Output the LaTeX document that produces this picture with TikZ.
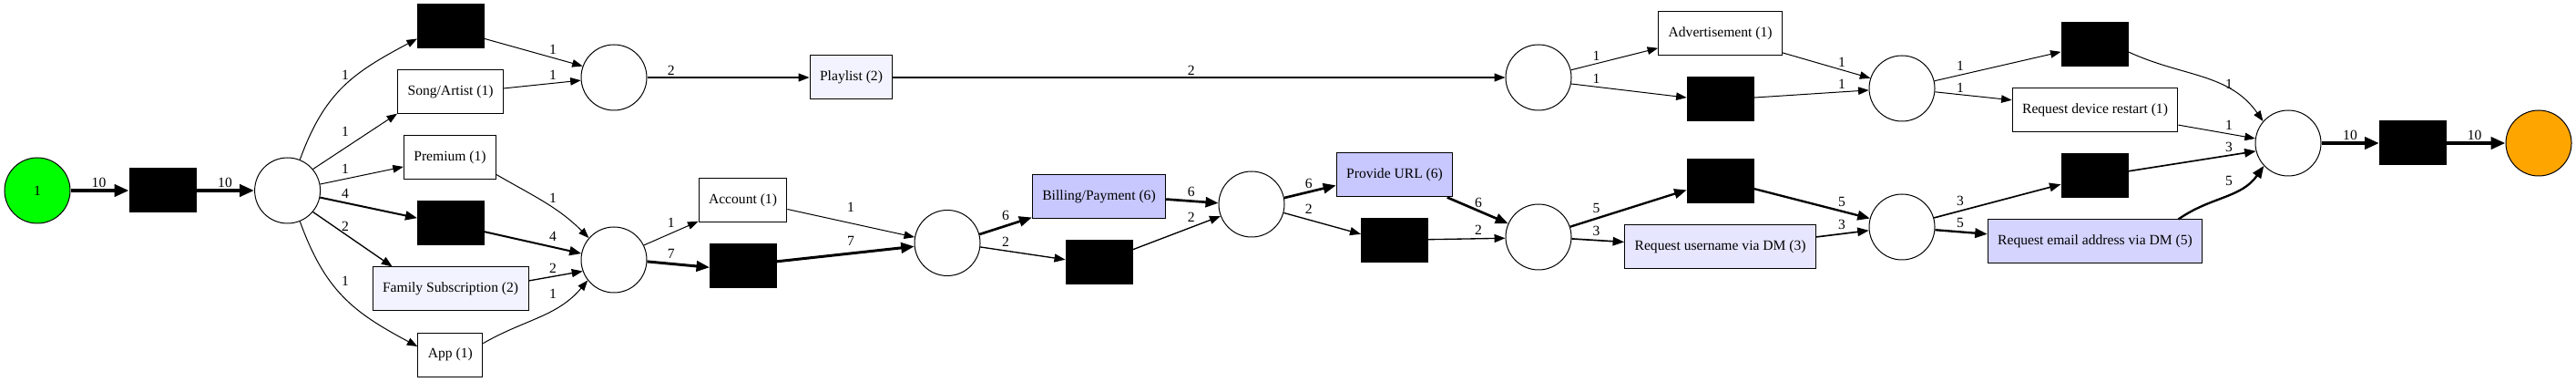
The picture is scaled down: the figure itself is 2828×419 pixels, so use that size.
\documentclass[tikz,border=0pt]{standalone}
\usepackage{fontspec}
\setmainfont{Liberation Serif}
\usepackage{tikz}
\usetikzlibrary{arrows.meta}

\definecolor{startgreen}{RGB}{0,255,0}
\definecolor{sinkorange}{RGB}{255,165,0}
\definecolor{freqtwo}{RGB}{243,243,255}
\definecolor{freqthree}{RGB}{230,230,255}
\definecolor{freqfive}{RGB}{212,212,255}
\definecolor{freqsix}{RGB}{200,200,255}

\tikzset{
  place/.style={circle, draw, line width=1pt, minimum size=72pt, inner sep=0pt},
  silent/.style={draw, fill=black, line width=1pt, minimum width=73pt, minimum height=48pt, inner sep=0pt},
  task/.style={draw, line width=1pt, minimum height=48pt, inner xsep=11pt},
  arcw/.style={line width=#1, -{Triangle[length=10pt 1.5,width=7pt 1.5]}},
  lbl/.style={inner sep=0pt}
}

\begin{document}
\begin{tikzpicture}[x=1pt,y=1pt,yscale=-1,xscale=1,font=\fontsize{15.6}{18}\selectfont]
        \useasboundingbox (0,0) rectangle (2828,419);
        % Places
        \node [place, fill=startgreen] (source) at (41,209) {1};
        \node [place] (p1) at (315.6,209) {};
        \node [place] (p2) at (674,85) {};
        \node [place] (p3) at (674,285) {};
        \node [place] (p4) at (1040,266.5) {};
        \node [place] (p5) at (1374,224) {};
        \node [place] (p6) at (1689,85) {};
        \node [place] (p8) at (1689,260) {};
        \node [place] (p7) at (2088,97) {};
        \node [place] (p9) at (2088,249) {};
        \node [place] (p10) at (2512,157) {};
        \node [place, fill=sinkorange] (sink) at (2787,157) {};
        % Silent transitions
        \node [silent] (t0) at (178.6,209) {};
        \node [silent] (tA) at (495,29) {};
        \node [silent] (tB) at (495,245) {};
        \node [silent] (tC) at (816,292) {};
        \node [silent] (tD) at (1206.5,288) {};
        \node [silent] (tE) at (1531,264) {};
        \node [silent] (tF) at (1888.6,109) {};
        \node [silent] (tG) at (1888.6,198.5) {};
        \node [silent] (tH) at (2299.5,49) {};
        \node [silent] (tI) at (2299.5,193) {};
        \node [silent] (tJ) at (2649,157) {};
        % Visible transitions
        \node [task] (song) at (494.6,101) {Song/Artist (1)};
        \node [task] (prem) at (494,173) {Premium (1)};
        \node [task, fill=freqtwo] (fam) at (494.6,317) {Family Subscription (2)};
        \node [task] (app) at (494.4,389) {App (1)};
        \node [task, fill=freqtwo] (play) at (934.5,85) {Playlist (2)};
        \node [task] (acc) at (815.5,220) {Account (1)};
        \node [task, fill=freqsix] (bill) at (1206.5,216) {Billing/Payment (6)};
        \node [task, fill=freqsix] (url) at (1531,192) {Provide URL (6)};
        \node [task] (adv) at (1888.6,37) {Advertisement (1)};
        \node [task, fill=freqthree] (user) at (1888.6,271) {Request username via DM (3)};
        \node [task] (dev) at (2300,121) {Request device restart (1)};
        \node [task, fill=freqfive] (mail) at (2300,265) {Request email address via DM (5)};

        %Straight Lines
        \draw [arcw=4pt] (source) -- (t0) node [lbl] at (108.5,200) {10};
        \draw [arcw=4pt] (t0) -- (p1) node [lbl] at (247,200) {10};
        %Curve Lines
        \draw [arcw=1pt] (p1.68) to [out=-70,in=152,looseness=1.1] (tA.200) node [lbl] at (379,82) {1};
        \draw [arcw=1pt] (p1.-68) to [out=70,in=208,looseness=1.1] (app.166) node [lbl] at (379,308) {1};
        %Straight Lines
        \draw [arcw=1pt] (p1.40) -- (song.202) node [lbl] at (379,144) {1};
        \draw [arcw=1pt] (p1.11) -- (prem.191) node [lbl] at (379,185) {1};
        \draw [arcw=2pt] (p1.-12) -- (tB.171) node [lbl] at (379,212) {4};
        \draw [arcw=1.33pt] (p1.-40) -- (fam.159) node [lbl] at (379,248) {2};
        \draw [arcw=1pt] (tA.-20) -- (p2.160) node [lbl] at (607,54) {1};
        \draw [arcw=1pt] (song.4) -- (p2.185) node [lbl] at (607,82) {1};
        %Curve Lines
        \draw [arcw=1pt] (prem.-20) to [out=30,in=225] (p3.139) node [lbl] at (607,217) {1};
        \draw [arcw=1pt] (app.19) to [out=-30,in=130] (p3.218) node [lbl] at (607,322) {1};
        %Straight Lines
        \draw [arcw=2pt] (tB.-14) -- (p3.169) node [lbl] at (607,259) {4};
        \draw [arcw=1.33pt] (fam.6) -- (p3.200) node [lbl] at (607,294) {2};
        \draw [arcw=1.33pt] (p2) -- (play) node [lbl] at (736.7,77) {2};
        \draw [arcw=1.33pt] (play) -- (p6) node [lbl] at (1307.7,77) {2};
        \draw [arcw=1pt] (p3.26) -- (acc.205) node [lbl] at (736.7,244) {1};
        \draw [arcw=3pt] (p3.-3) -- (tC.182) node [lbl] at (736.7,278) {7};
        \draw [arcw=1pt] (acc.-11) -- (p4.170) node [lbl] at (934,227) {1};
        \draw [arcw=3pt] (tC.8) -- (p4.186) node [lbl] at (934,264) {7};
        \draw [arcw=2.67pt] (p4.15) -- (bill.197) node [lbl] at (1104,236) {6};
        \draw [arcw=1.33pt] (p4.-7) -- (tD.175) node [lbl] at (1104,265) {2};
        \draw [arcw=2.67pt] (bill.-2) -- (p5.178) node [lbl] at (1307.7,210) {6};
        \draw [arcw=1.33pt] (tD.21) -- (p5.201) node [lbl] at (1307.7,238) {2};
        \draw [arcw=2.67pt] (p5.11) -- (url.190) node [lbl] at (1436.7,201) {6};
        \draw [arcw=1.33pt] (p5.-15) -- (tE.169) node [lbl] at (1436.7,229) {2};
        \draw [arcw=2.67pt] (url.-23) -- (p8.156) node [lbl] at (1623,222) {6};
        \draw [arcw=1.33pt] (tE.2) -- (p8.182) node [lbl] at (1623,252) {2};
        \draw [arcw=1pt] (p6.13) -- (adv.193) node [lbl] at (1752.5,61) {1};
        \draw [arcw=1pt] (p6.-11) -- (tF.177) node [lbl] at (1752.5,86) {1};
        \draw [arcw=1pt] (adv.-17) -- (p7.162) node [lbl] at (2022,68) {1};
        \draw [arcw=1pt] (tF.3) -- (p7.183) node [lbl] at (2022,92) {1};
        \draw [arcw=2.33pt] (p8.18) -- (tG.195) node [lbl] at (1752.5,228) {5};
        \draw [arcw=1.67pt] (p8.-3) -- (user.177) node [lbl] at (1752.5,253) {3};
        \draw [arcw=2.33pt] (tG.-13) -- (p9.165) node [lbl] at (2022,221) {5};
        \draw [arcw=1.67pt] (user.6) -- (p9.186) node [lbl] at (2022,246) {3};
        \draw [arcw=1pt] (p7.13) -- (tH.192) node [lbl] at (2152,72) {1};
        \draw [arcw=1pt] (p7.-6) -- (dev.173) node [lbl] at (2152,96) {1};
        \draw [arcw=1.67pt] (p9.16) -- (tI.194) node [lbl] at (2152,220) {3};
        \draw [arcw=2.33pt] (p9.-5) -- (mail.176) node [lbl] at (2152,244) {5};
        %Curve Lines
        \draw [arcw=1pt] (tH.-12) to [out=25,in=235] (p10.139) node [lbl] at (2447,92) {1};
        \draw [arcw=2.33pt] (mail.15) to [out=-35,in=125] (p10.223) node [lbl] at (2447,198) {5};
        %Straight Lines
        \draw [arcw=1pt] (dev.-10) -- (p10.172) node [lbl] at (2447,137) {1};
        \draw [arcw=1.67pt] (tI.8) -- (p10.194) node [lbl] at (2447,161) {3};
        \draw [arcw=4pt] (p10) -- (tJ) node [lbl] at (2580,148) {10};
        \draw [arcw=4pt] (tJ) -- (sink) node [lbl] at (2716.6,148) {10};
\end{tikzpicture}
\end{document}
